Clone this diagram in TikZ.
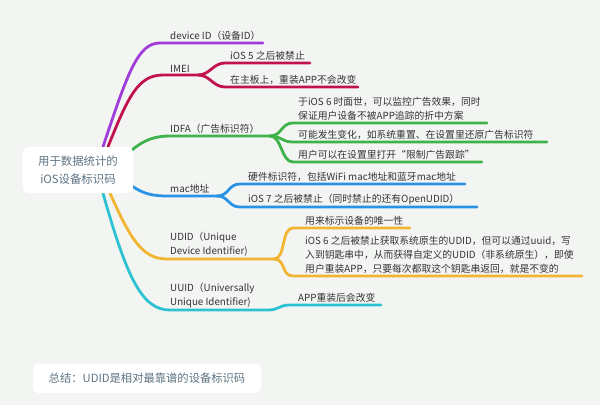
\documentclass[tikz,border=0pt]{standalone}
\usepackage{fontspec}
\setmainfont{Noto Sans CJK SC}
\usetikzlibrary{backgrounds}

\definecolor{pageBg}{HTML}{F3F5F3}
\definecolor{rootText}{HTML}{5E7482}
\definecolor{labelText}{HTML}{333333}
\definecolor{cPurple}{HTML}{A03CD8}
\definecolor{cCrimson}{HTML}{C2124E}
\definecolor{cGreen}{HTML}{3DB34A}
\definecolor{cBlue}{HTML}{2B93E3}
\definecolor{cYellow}{HTML}{F2B532}
\definecolor{cCyan}{HTML}{2DC2D2}

\begin{document}
\begin{tikzpicture}[
    x=1pt, y=-1pt,
    rootbox/.style={%
      fill=white,
      rounded corners=5pt,
      minimum width=110pt,
      minimum height=46pt,
      align=center,
      text=rootText,
      font=\fontsize{11.4}{18}\selectfont,
    },
    sumbox/.style={%
      fill=white,
      rounded corners=5pt,
      minimum width=228pt,
      minimum height=29pt,
      text=rootText,
      font=\fontsize{11.3}{14}\selectfont,
    },
    txt/.style={%
      anchor=south west,
      inner sep=0pt,
      align=left,
      text=labelText,
      font=\fontsize{9.8}{13.8}\selectfont,
    },
    branch/.style={%
      draw=#1,
      line width=2.8pt,
      line cap=round,
    },
  ]

    \begin{scope}[on background layer]
      \fill [pageBg] (0,0) rectangle (600,405);
    \end{scope}

    \node [rootbox] (root) at (78,170) {用于数据统计的\\iOS设备标识码};

    \coordinate (devIdL) at (160,43);  \coordinate (devIdR) at (263,43);
    \coordinate (imeiL) at (163,75);   \coordinate (imeiS) at (198,75);
    \coordinate (imeiAL) at (225,63);  \coordinate (imeiAR) at (310,63);
    \coordinate (imeiBL) at (225,87);  \coordinate (imeiBR) at (358,87);
    \coordinate (idfaL) at (170,136);  \coordinate (idfaS) at (270,136);
    \coordinate (idfaAL) at (293,123); \coordinate (idfaAR) at (487,123);
    \coordinate (idfaBL) at (293,142); \coordinate (idfaBR) at (547,142);
    \coordinate (idfaCL) at (293,162); \coordinate (idfaCR) at (482,162);
    \coordinate (macL) at (168,196);   \coordinate (macS) at (217,196);
    \coordinate (macAL) at (240,184);  \coordinate (macAR) at (465,184);
    \coordinate (macBL) at (240,207);  \coordinate (macBR) at (477,207);
    \coordinate (udidL) at (167,259);  \coordinate (udidS) at (274,259);
    \coordinate (udidAL) at (293,228); \coordinate (udidAR) at (410,228);
    \coordinate (udidBL) at (293,276); \coordinate (udidBR) at (582,276);
    \coordinate (uuidL) at (170,310);  \coordinate (uuidS) at (268,310);
    \coordinate (uuidAL) at (290,305); \coordinate (uuidAR) at (381,305);

    \node [txt] (devId) at (170,40.5) {device ID（设备ID）};
    \node [txt] (imei) at (170,72.5) {IMEI};
    \node [txt] (imeiA) at (230,60.5) {iOS 5 之后被禁止};
    \node [txt] (imeiB) at (230,84.5) {在主板上，重装APP不会改变};
    \node [txt] (idfa) at (170,133.5) {IDFA（广告标识符）};
    \node [txt] (idfaA) at (298,120.5) {于iOS 6 时面世，可以监控广告效果，同时\\保证用户设备不被APP追踪的折中方案};
    \node [txt] (idfaB) at (298,139.5) {可能发生变化，如系统重置、在设置里还原广告标识符};
    \node [txt] (idfaC) at (298,159.5) {用户可以在设置里打开“限制广告跟踪”};
    \node [txt] (mac) at (170,193.5) {mac地址};
    \node [txt] (macA) at (248,181.5) {硬件标识符，包括WiFi mac地址和蓝牙mac地址};
    \node [txt] (macB) at (248,204.5) {iOS 7 之后被禁止（同时禁止的还有OpenUDID）};
    \node [txt] (udid) at (170,256.5) {UDID（Unique\\Device Identifier)};
    \node [txt] (udidA) at (305,225.5) {用来标示设备的唯一性};
    \node [txt] (udidB) at (305,273.5) {iOS 6 之后被禁止获取系统原生的UDID，但可以通过uuid，写\\入到钥匙串中，从而获得自定义的UDID（非系统原生），即使\\用户重装APP，只要每次都取这个钥匙串返回，就是不变的};
    \node [txt] (uuid) at (170,307.5) {UUID（Universally\\Unique Identifier)};
    \node [txt] (uuidA) at (298,302.5) {APP重装后会改变};

    \node [sumbox] (summary) at (147,378.5) {总结：UDID是相对最靠谱的设备标识码};

    \begin{scope}[on background layer]
      \draw [branch=cPurple] ([xshift=25pt]root.north) .. controls +(25,-75) and +(-22,0) .. (devIdL) -- (devIdR);
      \draw [branch=cCrimson] ([xshift=30pt]root.north) .. controls +(20,-50) and +(-25,0) .. (imeiL) -- (imeiS);
      \draw [branch=cCrimson] (imeiS) .. controls +(12,0) and +(-12,0) .. (imeiAL) -- (imeiAR);
      \draw [branch=cCrimson] (imeiS) .. controls +(12,0) and +(-12,0) .. (imeiBL) -- (imeiBR);
      \draw [branch=cGreen] ([xshift=-1pt,yshift=-3pt]root.north east) .. controls +(12,-10) and +(-15,0) .. (idfaL) -- (idfaS);
      \draw [branch=cGreen] (idfaS) .. controls +(12,0) and +(-12,0) .. (idfaAL) -- (idfaAR);
      \draw [branch=cGreen] (idfaS) .. controls +(12,0) and +(-12,0) .. (idfaBL) -- (idfaBR);
      \draw [branch=cGreen] (idfaS) .. controls +(12,0) and +(-12,0) .. (idfaCL) -- (idfaCR);
      \draw [branch=cBlue] ([xshift=-1pt,yshift=7pt]root.south east) .. controls +(12,8) and +(-15,0) .. (macL) -- (macS);
      \draw [branch=cBlue] (macS) .. controls +(12,0) and +(-12,0) .. (macAL) -- (macAR);
      \draw [branch=cBlue] (macS) .. controls +(12,0) and +(-12,0) .. (macBL) -- (macBR);
      \draw [branch=cYellow] ([xshift=32pt]root.south) .. controls +(20,45) and +(-25,0) .. (udidL) -- (udidS);
      \draw [branch=cYellow] (udidS) .. controls +(12,0) and +(-12,0) .. (udidAL) -- (udidAR);
      \draw [branch=cYellow] (udidS) .. controls +(12,0) and +(-12,0) .. (udidBL) -- (udidBR);
      \draw [branch=cCyan] ([xshift=25pt]root.south) .. controls +(24,85) and +(-28,0) .. (uuidL) -- (uuidS);
      \draw [branch=cCyan] (uuidS) .. controls +(12,0) and +(-12,0) .. (uuidAL) -- (uuidAR);
    \end{scope}

    \useasboundingbox (0,0) rectangle (600,405);
\end{tikzpicture}
\end{document}
